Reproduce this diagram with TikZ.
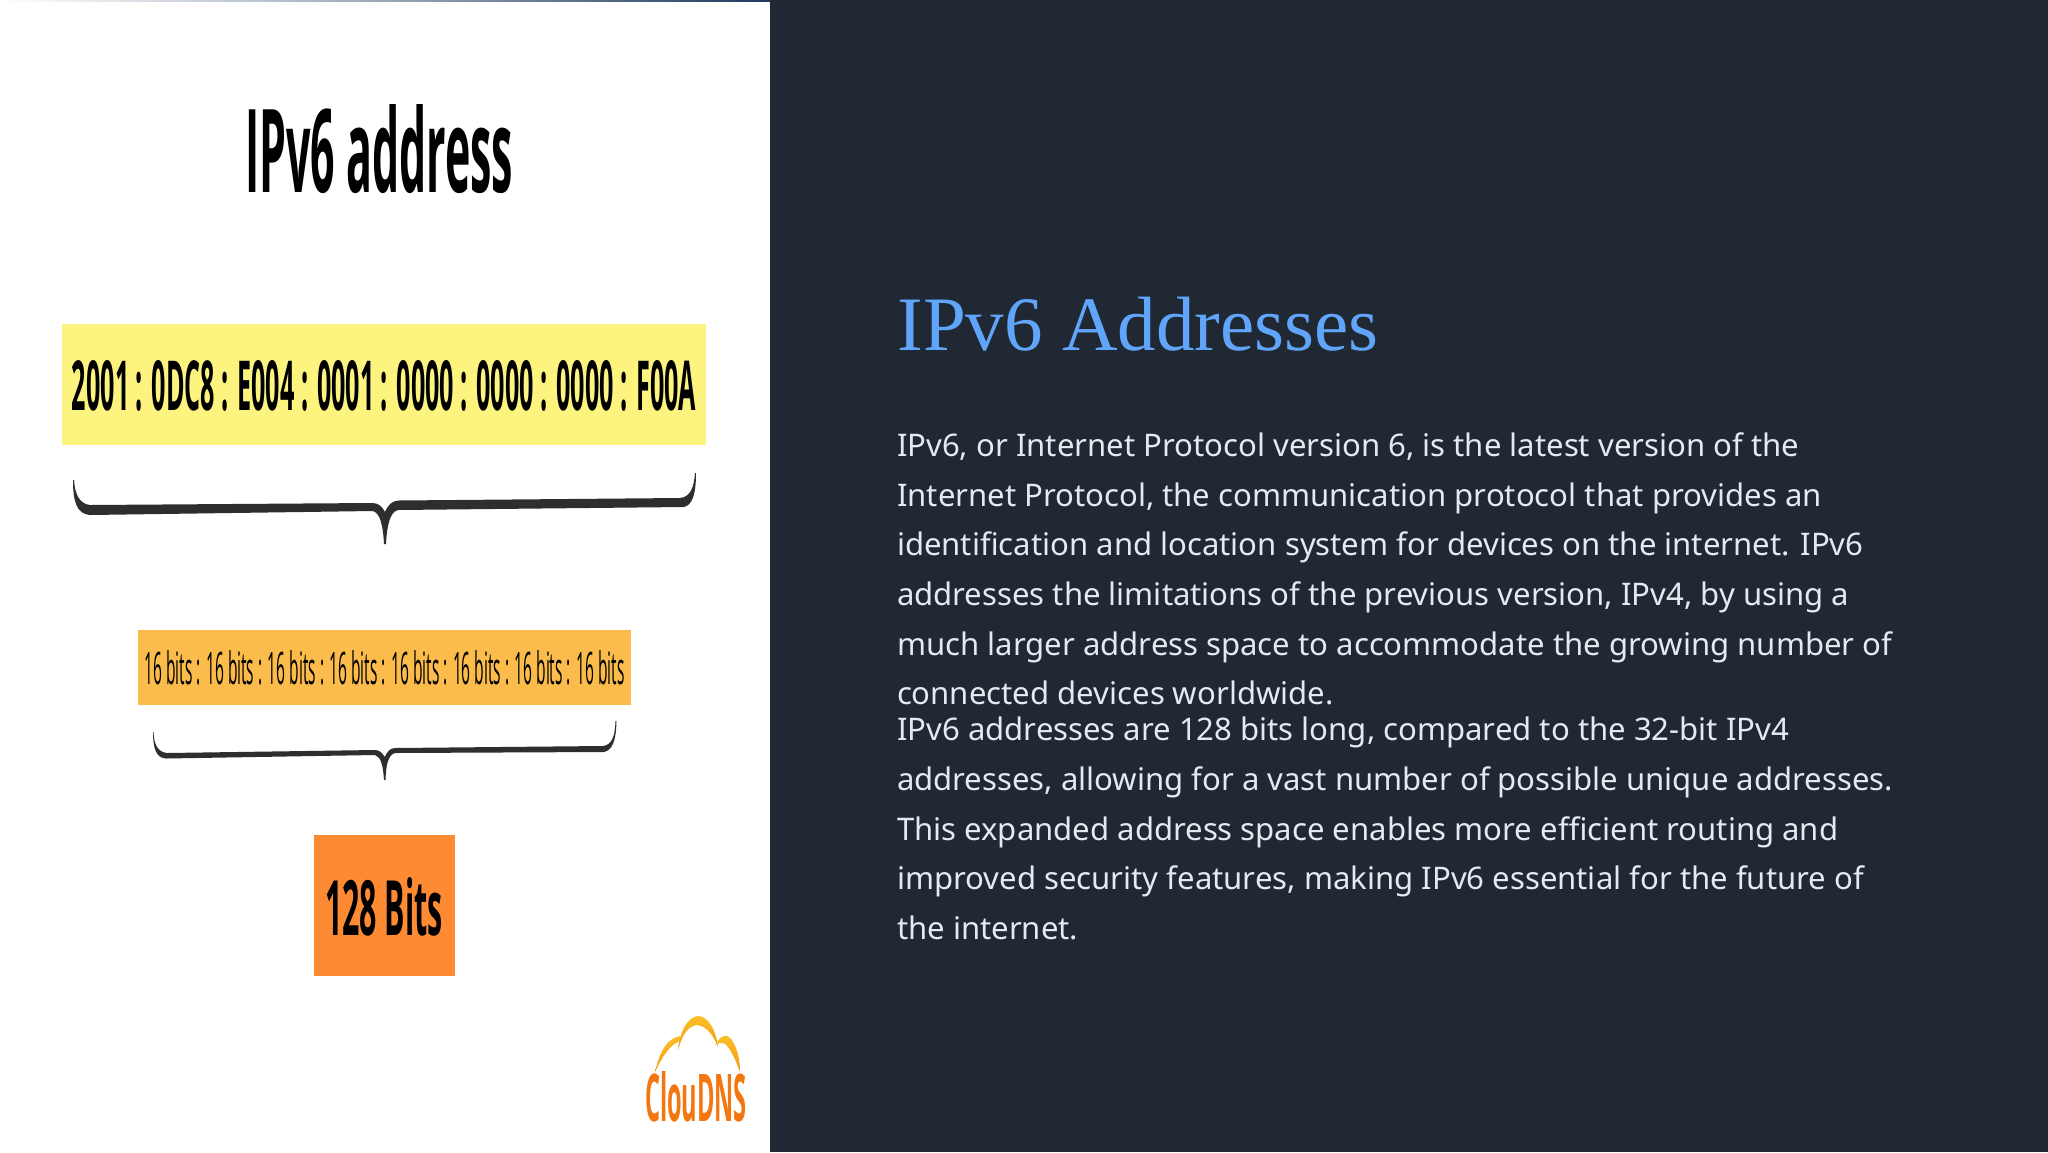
\documentclass[tikz,border=0pt]{standalone}
\usepackage{fontspec}
\usepackage{graphicx}
\setmainfont{Noto Sans}
\newfontfamily\serifttl{Liberation Serif}
\newfontfamily\opensans{Open Sans}
\definecolor{panel}{HTML}{1F2833}
\definecolor{bodytxt}{HTML}{E5E9F0}
\definecolor{ttl}{HTML}{60A5FA}
\definecolor{ylw}{HTML}{FDF480}
\definecolor{amb}{HTML}{FBBC4C}
\definecolor{org}{HTML}{FE8A34}
\definecolor{brc}{HTML}{2E2E2E}
\definecolor{logoA}{HTML}{FBC02A}
\definecolor{logoC}{HTML}{F59A12}
\definecolor{logoB}{HTML}{F4760F}
\definecolor{edge}{HTML}{1E3A5F}
\newcommand{\fitbox}[3]{\resizebox{#1}{#2}{#3}}
\tikzset{
 x=0.5pt,y=-0.5pt,
 txt/.style={inner sep=0,outer sep=0,anchor=center},
 bodyline/.style={inner sep=0,outer sep=0,anchor=base west,text=bodytxt,font=\fontsize{15.55}{16}\selectfont},
 bracefill/.style={fill=brc,draw=none},
 cloudlobe/.style={draw=none,top color=logoA,bottom color=logoC}
}
\begin{document}
\begin{tikzpicture}
\useasboundingbox (0,0) rectangle (2048,1152);
\fill[white] (0,0) rectangle (770,1152);
\fill[panel] (770,0) rectangle (2048,1152);
\shade[left color=white,right color=edge,middle color=edge!45] (0,0) rectangle (770,1.5);
% left graphic
\node[txt] (head) at (379,149) {\fitbox{134pt}{44pt}{\opensans\bfseries IPv6 address}};
\fill[ylw] (62,324) rectangle (706,445);
\node[txt] (addr) at (384,386) {\fitbox{312pt}{25pt}{\opensans\bfseries 2001 : 0DC8 : E004 : 0001 : 0000 : 0000 : 0000 : F00A}};
\fill[bracefill] (73,480) .. controls (73,500) and (76,514) .. (90,515) -- (373,511) .. controls (380,513) and (383,525) .. (384,544) -- (386,544) .. controls (387,525) and (390,512) .. (398,510) -- (684,507) .. controls (692,505) and (696,495) .. (696,473) -- (695,473) .. controls (694,488) and (690,497) .. (680,498) -- (398,500.5) .. controls (392,501) and (388,505) .. (385,512) .. controls (382,506) and (378,503) .. (372,503) -- (90,505) .. controls (80,504) and (75,495) .. (74,480) -- cycle;
\fill[amb] (138,630) rectangle (631,705);
\node[txt] (bits) at (384.5,668) {\fitbox{240pt}{17pt}{\opensans 16 bits : 16 bits : 16 bits : 16 bits : 16 bits : 16 bits : 16 bits : 16 bits}};
\fill[bracefill] (153,732) .. controls (153,748) and (156,758) .. (166,758.5) -- (375,755) .. controls (381,757) and (383,765) .. (384,780) -- (385.5,780) .. controls (386,765) and (388,755) .. (395,753) -- (604,752) .. controls (612,750) and (616,742) .. (616.5,721) -- (615.5,721) .. controls (615,736) and (612,745) .. (603,746) -- (395,748) .. controls (390,748) and (387,752) .. (384.7,757) .. controls (382,753) and (380,750) .. (375,750) -- (167,753) .. controls (158,752) and (154,745) .. (153.5,732) -- cycle;
\fill[org] (314,835) rectangle (455,976);
\node[txt] (big) at (384,907) {\fitbox{59pt}{29pt}{\opensans\bfseries 128 Bits}};
% logo
\shade[cloudlobe] (655,1072) .. controls (660,1050) and (668,1038) .. (680,1036) -- (680,1041) .. controls (670,1045) and (663,1055) .. (655,1072) -- cycle;
\shade[cloudlobe] (678,1050) .. controls (680,1030) and (688,1017) .. (698,1016) .. controls (708,1016) and (716,1030) .. (718,1047) .. controls (712,1032) and (705,1026) .. (697,1025) .. controls (688,1026) and (682,1035) .. (678,1050) -- cycle;
\shade[cloudlobe] (715,1045) .. controls (720,1036) and (726,1034) .. (729,1037) .. controls (736,1043) and (740,1058) .. (740,1072) .. controls (735,1058) and (730,1048) .. (725,1044) .. controls (722,1042) and (718,1043) .. (715,1045) -- cycle;
\node[txt,text=logoB] (logo) at (696,1097) {\fitbox{51pt}{25pt}{\opensans\bfseries ClouDNS}};
% right panel
\node[anchor=base west,inner sep=0,text=ttl,font=\serifttl\fontsize{38.5}{38.5}\selectfont] (ttlnode) at (897,350) {IPv6 Addresses};
\node[bodyline] (l1) at (897,456) {IPv6, or Internet Protocol version 6, is the latest version of the};
\node[bodyline] (l2) at (897,506) {Internet Protocol, the communication protocol that provides an};
\node[bodyline] (l3) at (897,555.5) {identification and location system for devices on the internet. IPv6};
\node[bodyline] (l4) at (897,605) {addresses the limitations of the previous version, IPv4, by using a};
\node[bodyline] (l5) at (897,655) {much larger address space to accommodate the growing number of};
\node[bodyline] (l6) at (897,704.5) {connected devices worldwide.};
\node[bodyline] (m1) at (897,740) {IPv6 addresses are 128 bits long, compared to the 32-bit IPv4};
\node[bodyline] (m2) at (897,790) {addresses, allowing for a vast number of possible unique addresses.};
\node[bodyline] (m3) at (897,840) {This expanded address space enables more efficient routing and};
\node[bodyline] (m4) at (897,889.5) {improved security features, making IPv6 essential for the future of};
\node[bodyline] (m5) at (897,939) {the internet.};
\end{tikzpicture}
\end{document}
